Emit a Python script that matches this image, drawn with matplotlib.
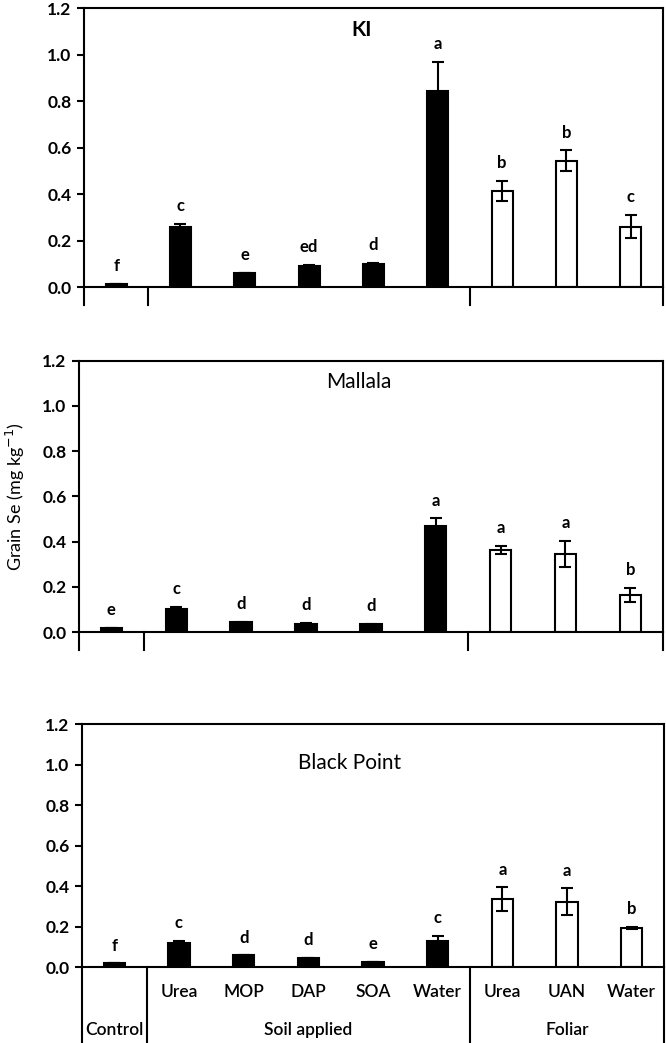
import matplotlib
matplotlib.use("Agg")
import matplotlib.pyplot as plt
import matplotlib.transforms as mtransforms

plt.rcParams['font.family'] = ['Lato', 'DejaVu Sans']

# categories
treatments = ['Control', 'Urea', 'MOP', 'DAP', 'SOA', 'Water', 'Urea', 'UAN', 'Water']
groups = ['Control', 'Soil applied', 'Foliar']
group_pos = [0, 3, 7]
foliar = [False, False, False, False, False, False, True, True, True]

# grain Se (mg/kg), standard errors and significance letters
sites = ['KI', 'Mallala', 'Black Point']
ki_mean = [0.015, 0.26, 0.061, 0.09, 0.10, 0.845, 0.413, 0.543, 0.26]
ki_err = [0.0, 0.012, 0.0, 0.004, 0.003, 0.125, 0.044, 0.045, 0.05]
ki_let = ['f', 'c', 'e', 'ed', 'd', 'a', 'b', 'b', 'c']

mal_mean = [0.018, 0.10, 0.043, 0.037, 0.035, 0.469, 0.363, 0.345, 0.164]
mal_err = [0.0, 0.012, 0.003, 0.003, 0.002, 0.034, 0.018, 0.058, 0.03]
mal_let = ['e', 'c', 'd', 'd', 'd', 'a', 'a', 'a', 'b']

bp_mean = [0.02, 0.118, 0.059, 0.047, 0.026, 0.13, 0.337, 0.324, 0.194]
bp_err = [0.0, 0.013, 0.0, 0.0, 0.0, 0.025, 0.058, 0.066, 0.007]
bp_let = ['f', 'c', 'd', 'd', 'e', 'c', 'a', 'a', 'b']

means = [ki_mean, mal_mean, bp_mean]
errs = [ki_err, mal_err, bp_err]
letters = [ki_let, mal_let, bp_let]

fig = plt.figure(figsize=(6.66, 10.43), dpi=100)
rects = [[0.1261, 0.7248, 0.8694, 0.2675],
         [0.1186, 0.3940, 0.8764, 0.2602],
         [0.1231, 0.0726, 0.8739, 0.2330]]
title_pos = [(0.48, 0.92), (0.48, 0.92), (0.46, 0.84)]
sep_drop = [-0.065, -0.066, -0.40]

x = list(range(len(treatments)))
for i, site in enumerate(sites):
    ax = fig.add_axes(rects[i])
    colors = ['white' if f else 'black' for f in foliar]
    ax.bar(x, means[i], width=0.33, color=colors, edgecolor='black', linewidth=1.5, zorder=2)
    ax.errorbar(x, means[i], yerr=errs[i], fmt='none', ecolor='black', elinewidth=1.5,
                capsize=4.5, capthick=1.5, zorder=3)
    for j in x:
        ax.annotate(letters[i][j], (j, means[i][j] + errs[i][j]), xytext=(0, 7),
                    textcoords='offset points', ha='center', va='bottom',
                    fontsize=12, fontweight='bold')
    ax.set_xlim(-0.5, 8.5)
    ax.set_ylim(0, 1.2)
    ax.set_yticks([0, 0.2, 0.4, 0.6, 0.8, 1.0, 1.2])
    ax.set_yticklabels(['0.0', '0.2', '0.4', '0.6', '0.8', '1.0', '1.2'],
                       fontsize=12.5, fontweight='bold')
    ax.set_xticks([])
    ax.tick_params(axis='y', direction='out', length=5, width=1.5, pad=4)
    for s in ax.spines.values():
        s.set_linewidth(1.5)
    ax.text(title_pos[i][0], title_pos[i][1], site, transform=ax.transAxes,
            ha='center', va='center', fontsize=15,
            fontweight='bold' if site == 'KI' else 'normal')
    trans = mtransforms.blended_transform_factory(ax.transData, ax.transAxes)
    for xs in [-0.5, 0.5, 5.5, 8.5]:
        ax.plot([xs, xs], [0, sep_drop[i]], color='black', lw=1.5,
                transform=trans, clip_on=False)
    if i == 2:
        for j, name in enumerate(treatments):
            if j > 0:
                ax.text(j, -0.10, name, transform=trans, ha='center', va='center',
                        fontsize=12.5, fontweight='semibold')
        for g, gp in zip(groups, group_pos):
            ax.text(gp, -0.26, g, transform=trans, ha='center', va='center',
                    fontsize=12.5, fontweight='semibold')
    if i == 1:
        ax.set_ylabel('Grain Se (mg kg$^{-1}$)', fontsize=13, labelpad=11)

fig.savefig('out.png', dpi=100)
